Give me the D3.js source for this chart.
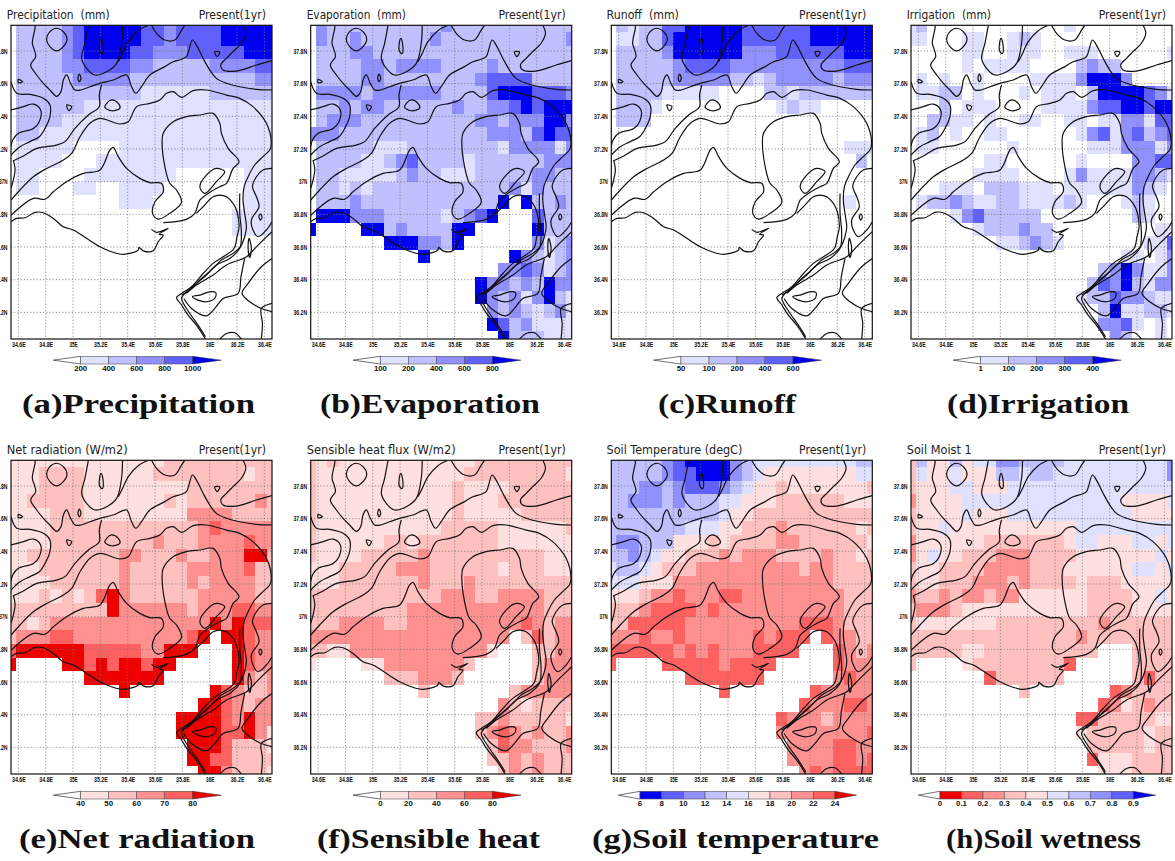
<!DOCTYPE html>
<html><head><meta charset="utf-8">
<script src="https://cdn.jsdelivr.net/npm/d3@7"></script>
<style>html,body{margin:0;padding:0;background:#fff}svg{display:block}</style>
</head><body><svg id="c" width="1175" height="861"></svg>
<script>
// Tick labels
const lonTicks=[34.6,34.8,35,35.2,35.4,35.6,35.8,36,36.2,36.4];
const latTicks=[36.2,36.4,36.6,36.8,37,37.2,37.4,37.6,37.8];
// Grid cell centres: 24 x 24, 1/12 degree
const lonStart=34.5417, latStart=37.9583, cellDeg=1/12;

// Colour breaks (cells hold the class index; class k starts at breaks[k-1])
const precipBreaks=[200,400,600,800,1000];
const evapBreaks=[100,200,400,600,800];
const runoffBreaks=[50,100,200,400,600];
const irrigBreaks=[1,100,200,300,400];
const netradBreaks=[40,50,60,70,80];
const sensBreaks=[0,20,40,60,80];
const soilTBreaks=[6,8,10,12,14,16,18,20,22,24];
const soilMBreaks=[0,0.1,0.2,0.3,0.4,0.5,0.6,0.7,0.8,0.9];

const precipRows=[
"022223455555443444455555","022223455555443444455555","022223455554433344444555","022223344443322222333344",
"022222333332222222222233","022222222222111111222222","022222211111111111111111","022221111111111111111111",
"022111111111111111111111","011111000011111111111111","011110001111111111111111","011000011111111000000111",
"011000110011110000000111","000000000011100000000111","000000000000000000001111","000000000000000000001111",
"000000000000000000000000","000000000000000000000000","000000000000000000000000","000000000000000000000000",
"000000000000000000000000","000000000000000000000000","000000000000000000000000","000000000000000000000000"];
const evapRows=[
"032222222222322222222222","032232222223222222222223","022233222222222222222222","022223323333222232222222",
"022223322222222344442222","033332333333222245554443","022323322222232233454555","023332222222222332333553",
"333222222222222233324544","022222111222222221333313","022221123422221222222333","022111112322111222223322",
"022121222222222222313222","022232222222222225052232","055533322222123450004222","500005523222255000005222",
"000000055533250000003123","000000000050000000532123","000000000000000003343123","000000000000000533232533",
"000000000000000532313521","000000000000000032321231","000000000000000054231111","000000000000000005222111"];
const runoffRows=[
"021224455555444444555555","011224555555444444555555","022223555555333444444555","022222344443333333333444",
"022222333332212333332333","022221111100002212222222","022210000000000121100000","022200000000000000000000",
"000000000000000000000000","000000000000000000000111","000000000000000000000020","000000000000000000000000",
"000000000000000000000000","000000000000000000000100","000000000000000000000000","000000000000000000000000",
"000000000000000000000000","000000000000000000000000","000000000000000000000000","000000000000000000000000",
"000000000000000000000000","000000000000000000000000","000000000000000000000000","000000000000000000000000"];
const irrigRows=[
"120000000000001000000000","110001100121000000000000","000001100111001110000001","000001011110000232200000",
"010100100001111355530000","011220100010111025555431","000201110000111134455455","002211010011001101133144",
"012010011000000134134234","011000000100000011133313","000000011000000100003344","000000111100001311113321",
"000111022211101111113210","012232112211112100012100","000013422222000000002100","000000122232200000000011",
"000000001123210000000114","000000000000000000011013","000000000000000002353113","000000000000000024352133",
"000000000000000122433211","000000000000000002511221","000000000000000003341010","000000000000000000320010"];
const netradRows=[
"111111111111112222222222","111222211111122222222122","111222211111111122222222","112222211111112122222232",
"111122211111111133332222","111122222222222223433333","111122222222232223333433","112222222233222322333552",
"111222222232222233333422","111122222232222232333322","111212124532222223333322","222222222533333323334433",
"221233333333333333535444","233344333333333345055433","455555544444335550005433","500005545455455000005433",
"000000055555550000005323","000000000050000000543223","000000000000000005543233","000000000000000555543533",
"000000000000000555544531","000000000000000055542221","000000000000000055442222","000000000000000005532221"];
const sensRows=[
"212111111111111222222222","211111111111112222222221","211111111111121111222222","211111111111121112222222",
"211111111111121111122222","211111111111222221111112","211111122122222221111111","211112222232222222222111",
"111222223332222221222111","111222222232223222222222","222222222222333223333222","222222222333333333333222",
"222333322333333333343233","333333333333333333024233","221133333333333310002233","100001133333332000002333",
"000000022233320000002333","000000000020000000233333","000000000000000003212222","000000000000000223222221",
"000000000000000234323223","000000000000000024332223","000000000000000022323222","000000000000000002323222"];
const soilTRows=[
"444443211113455555555544","444443221113456666666655","444334322234566766666667","443334344455666777777666",
"444444444456677777777777","444444455566777877777767","433444666767777887777776","443456677787888777787767",
"544567778888888887887777","555666888888888888887777","666788988899888888888777","777899998988888888888777",
"779999988888888889998777","888988988888898999098877","999999898988899990009878","900009999989999000009888",
"000000099999990000008988","000000000090000000988888","000000000000000009888998","000000000000000988878888",
"000000000000000888888889","000000000000000088889988","000000000000000088889989","000000000000000008989999"];
const soilMRows=[
"475575668877776666666668","465565557767766666666668","455566555666666666666666","355556666666666666655556",
"455556555666666666665555","455655555555555666666666","355555544444445665556656","356554443334444555555565",
"455444433334445555556656","455444333434444544455555","344343343355555544445565","433345555555555544445555",
"455555554444444443444444","444444444444444344444444","444445544444444440004444","400005444444442000004444",
"000000024444440000004244","000000000040000000234444","000000000000000002354344","000000000000000224444455",
"000000000000000544444544","000000000000000044444544","000000000000000025554444","000000000000000005554444"];

// Contour lines, same in every panel, in [lon,lat]
const openLines=[
[[34.722,37.957],[34.722,37.939],[34.702,37.847],[34.717,37.806],[34.727,37.765],[34.690,37.714],[34.734,37.653],[34.783,37.602],[34.831,37.561],[34.880,37.522],[34.912,37.551],[34.929,37.622],[34.953,37.653],[34.982,37.602],[35.014,37.561],[35.058,37.561],[35.124,37.581],[35.197,37.602],[35.294,37.622],[35.392,37.653],[35.428,37.581],[35.460,37.541],[35.501,37.581],[35.562,37.653],[35.672,37.704],[35.733,37.734],[35.794,37.749],[35.830,37.765],[35.874,37.867],[35.903,37.836],[35.952,37.755],[36.001,37.683],[36.049,37.632],[36.123,37.602],[36.220,37.581],[36.342,37.565],[36.456,37.561]],
[[35.112,37.957],[35.087,37.847],[35.063,37.755],[35.099,37.694],[35.160,37.653],[35.246,37.673],[35.319,37.724],[35.355,37.847],[35.362,37.957]],
[[35.550,37.957],[35.477,37.924],[35.404,37.857],[35.362,37.785],[35.331,37.734]],
[[35.574,37.957],[35.611,37.908],[35.672,37.867],[35.745,37.867],[35.794,37.928],[35.818,37.957]],
[[36.244,37.957],[36.264,37.908],[36.232,37.847],[36.171,37.796],[36.123,37.755],[36.081,37.714],[36.098,37.683],[36.196,37.677],[36.342,37.714],[36.456,37.741]],
[[34.546,37.439],[34.637,37.459],[34.710,37.475],[34.763,37.439],[34.753,37.367],[34.710,37.326],[34.600,37.296],[34.559,37.255],[34.546,37.214]],
[[34.546,37.612],[34.588,37.541],[34.685,37.534],[34.783,37.510],[34.831,37.469],[34.831,37.398],[34.795,37.326],[34.753,37.275],[34.685,37.245],[34.612,37.214],[34.546,37.163]],
[[34.563,37.132],[34.576,37.071],[34.563,37.010],[34.546,36.959]],
[[34.563,37.128],[34.637,37.157],[34.734,37.204],[34.880,37.224],[34.941,37.245],[35.014,37.326],[35.112,37.408],[35.192,37.459],[35.192,37.530],[35.209,37.592]],
[[34.546,36.887],[34.612,36.949],[34.710,37.030],[34.807,37.081],[34.929,37.132],[34.990,37.173],[35.051,37.275],[35.124,37.357],[35.197,37.387],[35.343,37.353],[35.404,37.367],[35.465,37.459],[35.562,37.479],[35.635,37.500],[35.684,37.541],[35.733,37.551],[35.794,37.516],[35.879,37.557],[35.976,37.561],[36.123,37.530],[36.220,37.510],[36.317,37.459],[36.415,37.357],[36.451,37.234],[36.439,37.194],[36.390,37.153],[36.329,37.102],[36.281,37.030],[36.252,36.969],[36.244,36.887],[36.256,36.806],[36.269,36.724],[36.256,36.663],[36.225,36.602],[36.171,36.561],[36.086,36.520],[36.025,36.469],[35.928,36.398],[35.855,36.336],[35.794,36.306]],
[[34.546,36.755],[34.588,36.775],[34.649,36.779],[34.722,36.812],[34.783,36.810],[34.856,36.775],[34.929,36.724],[35.002,36.704],[35.099,36.653],[35.197,36.602],[35.282,36.571],[35.367,36.555],[35.477,36.581],[35.482,36.598],[35.518,36.575],[35.587,36.577],[35.623,36.632],[35.660,36.673],[35.630,36.677],[35.696,36.714],[35.611,36.690],[35.574,36.708]],
[[34.546,36.794],[34.710,36.898],[34.795,36.892],[34.856,36.938],[34.953,37.000],[35.075,37.051],[35.197,37.071],[35.270,37.194],[35.294,37.210],[35.331,37.153],[35.392,37.081],[35.489,37.020],[35.562,36.994],[35.647,36.990],[35.660,36.938],[35.599,36.877],[35.582,36.806],[35.623,36.771],[35.708,36.806],[35.794,36.873],[35.757,36.949],[35.708,36.990],[35.672,37.092],[35.652,37.234],[35.660,37.296],[35.733,37.367],[35.830,37.398],[35.928,37.408],[36.025,37.418],[36.074,37.357],[36.086,37.296],[36.135,37.204],[36.215,37.122],[36.171,37.081],[36.123,36.990],[36.074,36.969],[35.989,36.928],[35.928,36.887],[35.891,36.806],[35.830,36.769],[35.660,36.749]],
[[35.903,36.806],[35.952,36.847],[36.025,36.908],[36.074,36.918],[36.123,36.908],[36.171,36.867],[36.200,36.816],[36.215,36.724],[36.200,36.663],[36.178,36.591],[36.098,36.540],[36.025,36.500],[35.952,36.438],[35.867,36.357],[35.794,36.316],[35.757,36.290],[35.794,36.245],[35.842,36.183],[35.903,36.122],[35.952,36.061],[35.969,36.036]],
[[36.220,36.928],[36.220,36.806],[36.232,36.683],[36.220,36.592],[36.147,36.530],[36.049,36.490],[35.976,36.428],[35.903,36.377],[35.818,36.316],[35.794,36.285],[35.855,36.193],[35.915,36.122],[35.969,36.051]],
[[35.811,36.285],[35.867,36.224],[35.976,36.179],[36.037,36.224],[36.098,36.285],[36.208,36.316],[36.229,36.418],[36.256,36.530]],
[[35.830,36.316],[35.903,36.367],[36.025,36.428],[36.123,36.490],[36.269,36.540],[36.354,36.612],[36.456,36.694]],
[[36.456,36.530],[36.378,36.479],[36.281,36.377],[36.237,36.316],[36.293,36.265],[36.378,36.224],[36.456,36.204]],
[[36.456,36.255],[36.378,36.224],[36.386,36.132],[36.378,36.036]],
[[36.074,36.036],[36.123,36.071],[36.183,36.075],[36.232,36.036]],
[[36.456,37.081],[36.390,37.071],[36.342,37.030],[36.313,36.969],[36.342,36.908],[36.361,36.847],[36.305,36.765],[36.317,36.704],[36.354,36.663],[36.415,36.704],[36.456,36.755]]
];
const closedLines=[
[[34.880,37.939],[34.929,37.918],[34.956,37.871],[34.929,37.826],[34.880,37.800],[34.831,37.826],[34.807,37.867],[34.831,37.918]],
[[35.207,37.877],[35.221,37.826],[35.216,37.785],[35.197,37.796],[35.194,37.847]],
[[36.037,37.794],[36.074,37.794],[36.054,37.765]],
[[35.046,37.659],[35.058,37.632],[35.046,37.612],[35.036,37.632]],
[[34.600,37.626],[34.632,37.612],[34.600,37.606]],
[[34.953,37.469],[34.990,37.459],[34.970,37.434]],
[[35.282,37.500],[35.331,37.479],[35.343,37.449],[35.282,37.434],[35.233,37.455],[35.246,37.479]],
[[36.001,36.326],[36.045,36.320],[36.037,36.285],[35.976,36.265],[35.915,36.275],[35.874,36.296],[35.928,36.306]],
[[36.288,36.653],[36.305,36.592],[36.293,36.536],[36.281,36.592]],
[[36.371,36.802],[36.383,36.785],[36.371,36.765],[36.361,36.785]],
[[35.928,36.969],[35.976,37.040],[36.049,37.081],[36.110,37.061],[36.049,37.000],[35.964,36.928]]
];

// Colour ramps (index 0 = below the first break)
const blueRamp=["#ffffff","#e0e0ff","#c0c0ff","#9090ff","#6060ff","#0000f0"];
const redRamp=["#ffffff","#ffe0e0","#ffc0c0","#ff9090","#ff6060","#ee0000"];
const tempRamp=["#ffffff","#0000f0","#6060ff","#9090ff","#c0c0ff","#e0e0ff","#ffe0e0","#ffc0c0","#ff9090","#ff6060","#ee0000"];
const wetRamp=["#ffffff","#ee0000","#ff6060","#ff9090","#ffc0c0","#ffe0e0","#e0e0ff","#c0c0ff","#9090ff","#6060ff","#0000f0"];

const panels=[
{t:"Precipitation  (mm)",tw:103,cap:"(a)Precipitation",cx:22,cw:233,rows:precipRows,br:precipBreaks,ramp:blueRamp,l:11,top:25.3,tx:-4.3,bar:[42.3,69.7,181.7,210.3]},
{t:"Evaporation  (mm)",tw:99.3,cap:"(b)Evaporation",cx:320,cw:220,rows:evapRows,br:evapBreaks,ramp:blueRamp,l:310.7,top:25.3,tx:-4,bar:[42.3,69.7,181.7,210.3]},
{t:"Runoff  (mm)",tw:72.3,cap:"(c)Runoff",cx:658,cw:138,rows:runoffRows,br:runoffBreaks,ramp:blueRamp,l:611.3,top:25.3,tx:-4.7,bar:[42.3,69.7,181.7,210.3]},
{t:"Irrigation  (mm)",tw:84.3,cap:"(d)Irrigation",cx:947,cw:182,rows:irrigRows,br:irrigBreaks,ramp:blueRamp,l:911,top:25.3,tx:-4.3,bar:[42.3,69.7,181.7,210.3]},
{t:"Net radiation (W/m2)",tw:121,cap:"(e)Net radiation",cx:19,cw:236,rows:netradRows,br:netradBreaks,ramp:redRamp,l:11,top:460.3,tx:-4.3,bar:[42.3,69.7,181.7,210.3]},
{t:"Sensible heat flux (W/m2)",tw:149,cap:"(f)Sensible heat",cx:317,cw:223,rows:sensRows,br:sensBreaks,ramp:redRamp,l:310.7,top:460.3,tx:-4,bar:[42.3,69.7,181.7,210.3]},
{t:"Soil Temperature (degC)",tw:135.7,cap:"(g)Soil temperature",cx:592,cw:287,rows:soilTRows,br:soilTBreaks,ramp:tempRamp,l:611.3,top:460.3,tx:-4.7,bar:[7,28.7,223.7,245.3]},
{t:"Soil Moist 1",tw:65,cap:"(h)Soil wetness",cx:946,cw:195,rows:soilMRows,br:soilMBreaks,ramp:wetRamp,l:911,top:460.3,tx:-4.3,bar:[7.3,29,222.3,244.7]}
];

const W=261,H=313.7,svg=d3.select("#c");
const lineOpen=d3.line().curve(d3.curveCatmullRom.alpha(0.5));
const lineClosed=d3.line().curve(d3.curveCatmullRomClosed.alpha(0.5));
const fmtTick=(v,s)=>(+v.toFixed(1))+s;
const sans='"DejaVu Sans",sans-serif', tickFont='"Liberation Sans",Arial,sans-serif';

panels.forEach((p,pi)=>{
  const x=d3.scaleLinear([34.546,36.456],[p.l,p.l+W]);
  const y=d3.scaleLinear([37.957,36.037],[p.top,p.top+H]);
  const color=d3.scaleThreshold().domain(p.br).range(p.ramp);
  const g=svg.append("g");
  const cid="clip"+pi;
  g.append("clipPath").attr("id",cid).append("rect").attr("x",p.l).attr("y",p.top).attr("width",W).attr("height",H);
  // Cells
  const cells=[];
  p.rows.forEach((row,r)=>row.split("").forEach((d,c)=>{
    const k=+d; if(k===0) return;
    cells.push({lon:lonStart+c*cellDeg,lat:latStart-r*cellDeg,v:p.br[k-1]});
  }));
  const plot=g.append("g").attr("clip-path",`url(#${cid})`);
  plot.selectAll("rect.cell").data(cells).join("rect").attr("class","cell")
    .attr("x",d=>x(d.lon-cellDeg/2)).attr("y",d=>y(d.lat+cellDeg/2))
    .attr("width",d=>x(d.lon+cellDeg/2)-x(d.lon-cellDeg/2))
    .attr("height",d=>y(d.lat-cellDeg/2)-y(d.lat+cellDeg/2))
    .attr("fill",d=>color(d.v)).attr("shape-rendering","crispEdges");
  // Dotted grid
  plot.selectAll("line.v").data(lonTicks).join("line").attr("class","v")
    .attr("x1",d=>x(d)).attr("x2",d=>x(d)).attr("y1",p.top).attr("y2",p.top+H)
    .attr("stroke","#777").attr("stroke-width",0.8).attr("stroke-dasharray","1.2,2");
  plot.selectAll("line.h").data(latTicks).join("line").attr("class","h")
    .attr("y1",d=>y(d)).attr("y2",d=>y(d)).attr("x1",p.l).attr("x2",p.l+W)
    .attr("stroke","#777").attr("stroke-width",0.8).attr("stroke-dasharray","1.2,2");
  // Contours
  const toXY=L=>L.map(q=>[x(q[0]),y(q[1])]);
  plot.selectAll("path.o").data(openLines).join("path").attr("class","o")
    .attr("d",d=>lineOpen(toXY(d))).attr("fill","none").attr("stroke","#111").attr("stroke-width",1.2);
  plot.selectAll("path.k").data(closedLines).join("path").attr("class","k")
    .attr("d",d=>lineClosed(toXY(d))).attr("fill","none").attr("stroke","#111").attr("stroke-width",1.2);
  // Frame
  g.append("rect").attr("x",p.l).attr("y",p.top).attr("width",W).attr("height",H)
    .attr("fill","none").attr("stroke","#111").attr("stroke-width",1.2);
  // Axes
  const ax=d3.axisBottom(x).tickValues(lonTicks).tickSize(0).tickPadding(3).tickFormat(v=>fmtTick(v,"E"));
  const ay=d3.axisLeft(y).tickValues(latTicks).tickSize(0).tickPadding(3.5).tickFormat(v=>fmtTick(v,"N"));
  for(const [a,tr] of [[ax,`translate(0,${p.top+H})`],[ay,`translate(${p.l},0)`]]){
    const n=g.append("g").attr("transform",tr).call(a);
    n.select(".domain").remove();
    n.selectAll("text").attr("font-family",tickFont).attr("font-size",6.4).attr("font-weight","bold").attr("fill","#111")
      .attr("textLength",function(){return this.textContent.length*2.75;}).attr("lengthAdjust","spacingAndGlyphs");
  }
  // Titles
  const ty=p.top-6.4;
  g.append("text").attr("x",p.l+p.tx).attr("y",ty).text(p.t).attr("font-family",sans).attr("font-size",12).attr("fill","#222")
    .attr("textLength",p.tw).attr("lengthAdjust","spacingAndGlyphs").style("white-space","pre");
  g.append("text").attr("x",p.l+187.7).attr("y",ty).text("Present(1yr)").attr("font-family",sans).attr("font-size",12).attr("fill","#222")
    .attr("textLength",67.3).attr("lengthAdjust","spacingAndGlyphs");
  // Colour bar
  const [a0,a1,a2,a3]=p.bar.map(d=>d+p.l);
  const n=p.br.length;
  const bx=d3.scaleLinear([0,n-1],[a1,a2]);
  const by0=p.top+331, by1=p.top+338.7, bm=(by0+by1)/2;
  g.append("polygon").attr("points",[[a0,bm],[a1,by0],[a1,by1]].join(" ")).attr("fill",p.ramp[0]).attr("stroke","#333").attr("stroke-width",0.7);
  d3.range(n-1).forEach(i=>{
    g.append("rect").attr("x",bx(i)).attr("y",by0).attr("width",bx(i+1)-bx(i)).attr("height",by1-by0)
      .attr("fill",p.ramp[i+1]).attr("stroke","#555").attr("stroke-width",0.6);
  });
  g.append("polygon").attr("points",[[a2,by0],[a3,bm],[a2,by1]].join(" ")).attr("fill",p.ramp[n]).attr("stroke","#333").attr("stroke-width",0.5);
  p.br.forEach((b,i)=>{
    g.append("text").attr("x",bx(i)).attr("y",by1+6.8).attr("text-anchor","middle").text(b)
      .attr("font-family",tickFont).attr("font-size",7.8).attr("font-weight","bold").attr("fill","#111");
  });
  // Caption
  g.append("text").attr("x",p.cx).attr("y",p.top+388).text(p.cap)
    .attr("font-family",'"Liberation Serif",serif').attr("font-weight","bold").attr("font-size",28).attr("fill","#111")
    .attr("textLength",p.cw).attr("lengthAdjust","spacingAndGlyphs");
});
</script></body></html>
